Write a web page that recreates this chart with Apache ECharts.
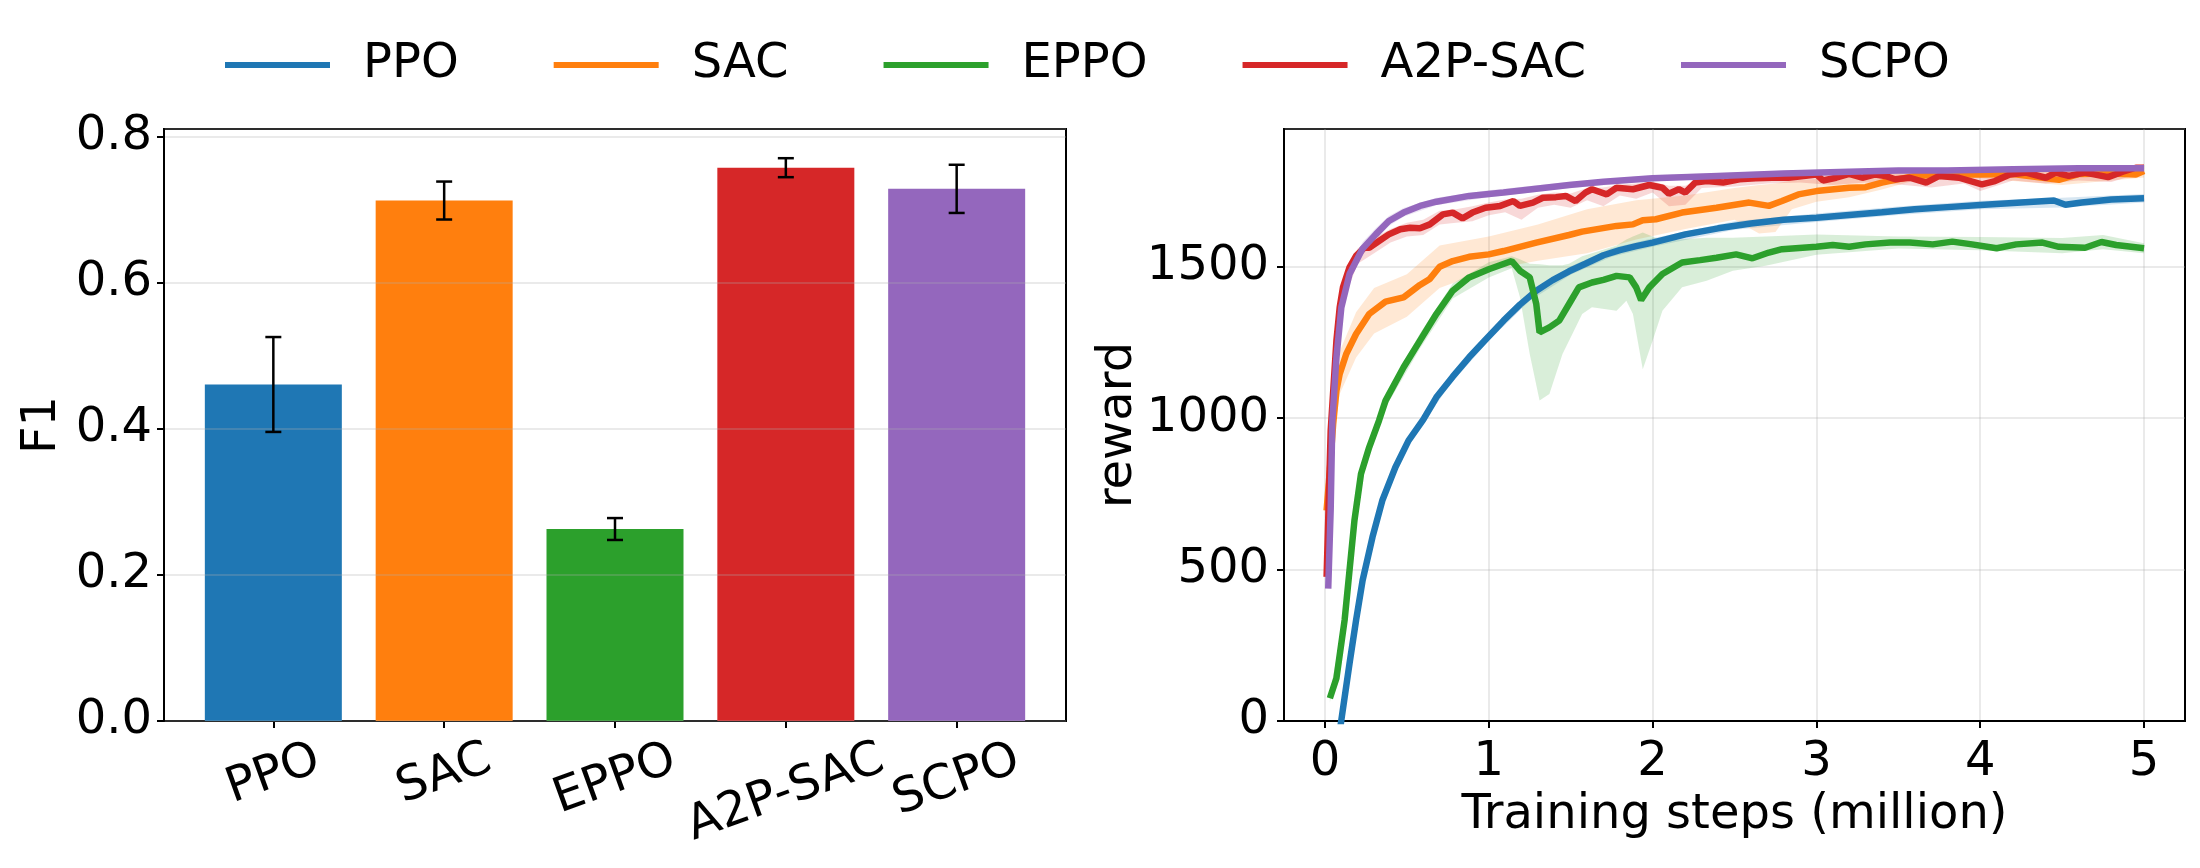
<!DOCTYPE html>
<html>
<head>
<meta charset="utf-8">
<script src="https://cdn.jsdelivr.net/npm/echarts@6/dist/echarts.min.js"></script>
<style>
  html, body { margin: 0; padding: 0; background: #fff; }
  #chart-main { width: 2200px; height: 868px; }
</style>
</head>
<body>
<div id="chart-main"></div>
<script type="text/javascript">
// methods (same order in both panels)
var methods = ['PPO', 'SAC', 'EPPO', 'A2P-SAC', 'SCPO'];
var colors = ['#1f77b4', '#ff7f0e', '#2ca02c', '#d62728', '#9467bd'];

// left panel: F1 score, mean and std
var f1Mean = [0.461, 0.713, 0.263, 0.758, 0.729];
var f1Err = [0.065, 0.026, 0.015, 0.013, 0.033];

// right panel: reward curves (x in million steps)
var ppoSteps = [0.02, 0.10, 0.15, 0.19, 0.23, 0.29, 0.35, 0.43, 0.51, 0.60, 0.68, 0.78, 0.88, 0.98, 1.09, 1.19, 1.29, 1.39, 1.49, 1.59, 1.70, 1.80, 1.90, 2.0, 2.2, 2.4, 2.6, 2.8, 3.0, 3.2, 3.4, 3.6, 3.8, 4.0, 4.2, 4.45, 4.52, 4.62, 4.8, 5.0];
var ppoReward = [-300, 3, 190, 333, 465, 607, 728, 838, 926, 995, 1069, 1137, 1201, 1259, 1322, 1375, 1421, 1456, 1485, 1510, 1538, 1555, 1568, 1580, 1607, 1627, 1643, 1655, 1662, 1671, 1680, 1690, 1697, 1704, 1711, 1719, 1705, 1712, 1722, 1726];
var ppoBandSteps = [0.5, 0.75, 1.0, 1.25, 1.5, 1.75, 2.0, 2.5, 3.0, 3.5, 4.0, 4.5, 5.0];
var ppoBandLow = [900, 1102, 1256, 1388, 1474, 1533, 1566, 1622, 1648, 1671, 1690, 1696, 1712];
var ppoBandHigh = [932, 1132, 1284, 1416, 1502, 1561, 1594, 1650, 1676, 1699, 1718, 1728, 1740];

var sacSteps = [0.01, 0.03, 0.05, 0.07, 0.09, 0.13, 0.19, 0.27, 0.37, 0.48, 0.58, 0.64, 0.70, 0.78, 0.88, 1.00, 1.09, 1.29, 1.49, 1.57, 1.78, 1.88, 1.94, 2.02, 2.18, 2.39, 2.59, 2.71, 2.79, 2.89, 3.0, 3.2, 3.3, 3.4, 3.6, 3.8, 4.0, 4.2, 4.48, 4.6, 4.8, 4.95, 5.0];
var sacReward = [695, 830, 980, 1091, 1146, 1212, 1278, 1344, 1385, 1399, 1440, 1460, 1500, 1519, 1533, 1541, 1552, 1580, 1605, 1616, 1635, 1640, 1654, 1657, 1679, 1695, 1712, 1701, 1717, 1739, 1750, 1761, 1763, 1778, 1800, 1805, 1805, 1806, 1787, 1806, 1808, 1805, 1816];
var sacBandSteps = [0.01, 0.05, 0.09, 0.19, 0.3, 0.5, 0.7, 1.0, 1.3, 1.6, 1.9, 2.2, 2.5, 2.65, 2.75, 2.85, 3.0, 3.2, 3.4, 3.6, 4.0, 4.5, 5.0];
var sacBandLow = [670, 930, 1080, 1200, 1280, 1335, 1430, 1490, 1520, 1545, 1590, 1625, 1655, 1610, 1615, 1690, 1715, 1730, 1755, 1785, 1792, 1770, 1795];
var sacBandHigh = [720, 1030, 1220, 1350, 1430, 1475, 1570, 1600, 1640, 1690, 1720, 1735, 1760, 1770, 1775, 1785, 1790, 1800, 1805, 1815, 1820, 1815, 1835];

var eppoSteps = [0.03, 0.07, 0.12, 0.15, 0.18, 0.22, 0.27, 0.33, 0.37, 0.48, 0.58, 0.68, 0.78, 0.88, 1.00, 1.14, 1.19, 1.25, 1.29, 1.31, 1.37, 1.43, 1.49, 1.55, 1.63, 1.70, 1.78, 1.86, 1.90, 1.93, 1.98, 2.06, 2.18, 2.29, 2.39, 2.51, 2.61, 2.71, 2.79, 3.0, 3.1, 3.2, 3.3, 3.45, 3.57, 3.71, 3.83, 3.95, 4.10, 4.22, 4.38, 4.48, 4.64, 4.74, 4.83, 5.0];
var eppoReward = [75, 141, 333, 498, 662, 816, 904, 992, 1058, 1168, 1256, 1344, 1421, 1465, 1492, 1519, 1487, 1465, 1377, 1283, 1300, 1322, 1377, 1432, 1448, 1457, 1470, 1465, 1432, 1390, 1432, 1476, 1514, 1522, 1530, 1541, 1528, 1547, 1558, 1566, 1572, 1566, 1574, 1580, 1580, 1574, 1583, 1574, 1561, 1574, 1580, 1566, 1563, 1582, 1572, 1561];
var eppoBandSteps = [0.03, 0.12, 0.22, 0.37, 0.58, 0.78, 1.00, 1.14, 1.19, 1.25, 1.31, 1.37, 1.45, 1.49, 1.57, 1.63, 1.78, 1.84, 1.88, 1.94, 2.00, 2.06, 2.18, 2.33, 2.49, 2.69, 3.0, 3.5, 4.0, 4.5, 4.75, 5.0];
var eppoBandLow = [60, 315, 795, 1035, 1230, 1395, 1465, 1495, 1400, 1212, 1058, 1080, 1212, 1256, 1344, 1366, 1355, 1388, 1344, 1162, 1256, 1355, 1432, 1454, 1487, 1503, 1540, 1560, 1555, 1545, 1558, 1545];
var eppoBandHigh = [90, 350, 835, 1080, 1280, 1445, 1515, 1535, 1525, 1510, 1508, 1505, 1505, 1510, 1535, 1545, 1570, 1590, 1600, 1613, 1600, 1585, 1591, 1596, 1596, 1600, 1607, 1600, 1598, 1595, 1605, 1578];

var a2pSteps = [0.01, 0.035, 0.07, 0.09, 0.11, 0.15, 0.19, 0.24, 0.27, 0.33, 0.39, 0.46, 0.52, 0.58, 0.64, 0.72, 0.78, 0.84, 0.90, 0.98, 1.07, 1.15, 1.19, 1.27, 1.33, 1.41, 1.47, 1.53, 1.59, 1.63, 1.72, 1.78, 1.88, 1.98, 2.06, 2.10, 2.16, 2.20, 2.26, 2.33, 2.43, 2.53, 2.63, 2.73, 2.83, 3.0, 3.04, 3.12, 3.2, 3.28, 3.36, 3.42, 3.48, 3.57, 3.67, 3.75, 3.87, 4.01, 4.09, 4.18, 4.28, 4.40, 4.46, 4.54, 4.64, 4.78, 4.87, 4.95, 5.0];
var a2pReward = [476, 959, 1256, 1366, 1432, 1498, 1536, 1563, 1563, 1585, 1607, 1624, 1629, 1627, 1640, 1673, 1679, 1660, 1679, 1695, 1701, 1717, 1701, 1712, 1728, 1730, 1734, 1717, 1745, 1756, 1739, 1761, 1756, 1770, 1761, 1741, 1756, 1745, 1778, 1783, 1778, 1789, 1792, 1794, 1794, 1805, 1785, 1794, 1807, 1794, 1805, 1800, 1789, 1794, 1778, 1800, 1794, 1772, 1783, 1805, 1811, 1794, 1811, 1800, 1811, 1796, 1814, 1827, 1827];
var a2pBandSteps = [0.01, 0.05, 0.1, 0.2, 0.3, 0.4, 0.5, 0.6, 0.7, 0.8, 0.9, 1.0, 1.1, 1.2, 1.3, 1.4, 1.5, 1.6, 1.7, 1.8, 1.9, 2.0, 2.1, 2.2, 2.3, 2.5, 2.7, 2.9, 3.1, 3.3, 3.5, 3.7, 3.9, 4.0, 4.2, 4.4, 4.6, 4.8, 5.0];
var a2pBandLow = [470, 1060, 1370, 1510, 1545, 1580, 1600, 1605, 1640, 1645, 1650, 1670, 1680, 1655, 1695, 1705, 1695, 1720, 1700, 1735, 1725, 1745, 1700, 1705, 1760, 1765, 1775, 1778, 1770, 1778, 1772, 1762, 1775, 1750, 1785, 1775, 1785, 1780, 1812];
var a2pBandHigh = [490, 1140, 1430, 1560, 1595, 1625, 1645, 1655, 1685, 1690, 1700, 1712, 1722, 1725, 1738, 1745, 1742, 1760, 1762, 1772, 1775, 1782, 1768, 1768, 1795, 1798, 1808, 1812, 1810, 1814, 1812, 1808, 1815, 1800, 1820, 1818, 1822, 1820, 1838];

var scpoSteps = [0.02, 0.035, 0.045, 0.07, 0.10, 0.15, 0.23, 0.31, 0.39, 0.48, 0.58, 0.68, 0.88, 1.09, 1.29, 1.49, 1.70, 2.0, 2.4, 2.8, 3.2, 3.5, 3.8, 4.2, 4.6, 5.0];
var scpoReward = [437, 700, 990, 1200, 1366, 1476, 1560, 1607, 1651, 1679, 1701, 1715, 1734, 1745, 1758, 1770, 1781, 1792, 1800, 1808, 1814, 1818, 1818, 1822, 1825, 1825];
var scpoBandSteps = [0.1, 0.15, 0.23, 0.31, 0.39, 0.48, 0.68, 1.0, 1.5, 2.0, 3.0, 4.0, 5.0];
var scpoBandLow = [1340, 1455, 1540, 1590, 1635, 1665, 1703, 1730, 1760, 1783, 1804, 1812, 1817];
var scpoBandHigh = [1395, 1500, 1582, 1627, 1668, 1694, 1728, 1753, 1781, 1802, 1821, 1829, 1834];

var curves = [
  [ppoSteps, ppoReward, ppoBandSteps, ppoBandLow, ppoBandHigh],
  [sacSteps, sacReward, sacBandSteps, sacBandLow, sacBandHigh],
  [eppoSteps, eppoReward, eppoBandSteps, eppoBandLow, eppoBandHigh],
  [a2pSteps, a2pReward, a2pBandSteps, a2pBandLow, a2pBandHigh],
  [scpoSteps, scpoReward, scpoBandSteps, scpoBandLow, scpoBandHigh]
];

var FONT = 'DejaVu Sans';
var FS = 48;

// rotated bar labels: matplotlib puts the top of the rotated box under the tick,
// so longer names sit lower. shift each label via rich padding.
var ctx = document.createElement('canvas').getContext('2d');
ctx.font = FS + 'px "' + FONT + '"';
var rich = {};
methods.forEach(function (m, i) {
  var d = ctx.measureText(m).width * 0.171;
  rich['c' + i] = { padding: [2 * d * 0.94, 2 * d * 0.342, 0, 0] };
});

function zip(a, b) {
  return a.map(function (v, i) { return [v, b[i]]; });
}

var series = [];

// bars
series.push({
  type: 'bar',
  name: 'F1',
  xAxisIndex: 0,
  yAxisIndex: 0,
  barWidth: 137,
  z: 2,
  data: methods.map(function (m, i) {
    return { value: [i, f1Mean[i]], itemStyle: { color: colors[i] } };
  })
});

// error bars
series.push({
  type: 'custom',
  name: 'err',
  xAxisIndex: 0,
  yAxisIndex: 0,
  z: 6,
  silent: true,
  data: methods.map(function (m, i) { return [i, f1Mean[i], f1Err[i]]; }),
  renderItem: function (params, api) {
    var x = api.value(0), v = api.value(1), e = api.value(2);
    var lo = api.coord([x, v - e]);
    var hi = api.coord([x, v + e]);
    var cap = 8;
    var st = { stroke: '#000', lineWidth: 2.5 };
    return {
      type: 'group',
      children: [
        { type: 'line', shape: { x1: lo[0], y1: lo[1], x2: hi[0], y2: hi[1] }, style: st },
        { type: 'line', shape: { x1: lo[0] - cap, y1: lo[1], x2: lo[0] + cap, y2: lo[1] }, style: st },
        { type: 'line', shape: { x1: hi[0] - cap, y1: hi[1], x2: hi[0] + cap, y2: hi[1] }, style: st }
      ]
    };
  }
});

// std bands
curves.forEach(function (c, k) {
  var bs = c[2], lo = c[3], hi = c[4];
  series.push({
    type: 'custom',
    name: methods[k] + ' band',
    xAxisIndex: 1,
    yAxisIndex: 1,
    clip: true,
    silent: true,
    z: 1,
    data: [[bs[0], lo[0]]],
    renderItem: function (params, api) {
      var pts = [];
      for (var i = 0; i < bs.length; i++) pts.push(api.coord([bs[i], hi[i]]));
      for (var j = bs.length - 1; j >= 0; j--) pts.push(api.coord([bs[j], lo[j]]));
      return { type: 'polygon', shape: { points: pts }, style: { fill: colors[k], opacity: 0.18 } };
    }
  });
});

// mean curves
curves.forEach(function (c, k) {
  series.push({
    type: 'line',
    name: methods[k],
    xAxisIndex: 1,
    yAxisIndex: 1,
    showSymbol: false,
    symbol: 'none',
    clip: true,
    z: 3 + k * 0.1,
    lineStyle: { width: 6.5, color: colors[k] },
    itemStyle: { color: colors[k] },
    data: zip(c[0], c[1])
  });
});

var myChart = echarts.init(document.getElementById('chart-main'));
var tick = { show: true, length: 7, lineStyle: { color: '#000', width: 2 } };
var gridLine = { show: true, lineStyle: { color: 'rgba(176,176,176,0.35)', width: 1.5 } };

// bar-name labels; neighbours go on two overlaid axes so none gets hidden
function barLabels(values) {
  return {
    customValues: values,
    showMinLabel: true, showMaxLabel: true, hideOverlap: false,
    rotate: 20, align: 'center', verticalAlign: 'middle', margin: 37,
    fontSize: FS, color: '#000', fontFamily: FONT,
    formatter: function (v) { var i = Math.round(v); return '{c' + i + '|' + methods[i] + '}'; },
    rich: rich
  };
}

var option = {
  animation: false,
  backgroundColor: '#fff',
  textStyle: { fontFamily: FONT, color: '#000' },
  legend: {
    data: methods,
    icon: 'rect',
    left: 220,
    top: 36,
    itemWidth: 105,
    itemHeight: 6,
    itemGap: 95,
    textStyle: { fontSize: FS, color: '#000', fontFamily: FONT, padding: [0, 0, 0, 28] }
  },
  grid: [
    { left: 164, top: 129, width: 902, height: 592, show: true, borderColor: '#000', borderWidth: 2, backgroundColor: 'transparent' },
    { left: 1284, top: 129, width: 901, height: 592, show: true, borderColor: '#000', borderWidth: 2, backgroundColor: 'transparent' }
  ],
  xAxis: [
    {
      type: 'value', gridIndex: 0, position: 'bottom', min: -0.64, max: 4.64,
      axisLine: { show: true, onZero: false, lineStyle: { color: '#000', width: 2 } },
      axisTick: { show: true, length: 7, lineStyle: { color: '#000', width: 2 }, customValues: [0, 1, 2, 3, 4] },
      axisLabel: barLabels([0, 2, 4]),
      splitLine: { show: false }
    },
    {
      type: 'value', gridIndex: 1, min: -0.25, max: 5.25,
      name: 'Training steps (million)', nameLocation: 'middle', nameGap: 70,
      nameTextStyle: { fontSize: FS, color: '#000', fontFamily: FONT },
      axisLine: { show: true, onZero: false, lineStyle: { color: '#000', width: 2 } },
      axisTick: { show: true, length: 7, lineStyle: { color: '#000', width: 2 }, customValues: [0, 1, 2, 3, 4, 5] },
      axisLabel: { customValues: [0, 1, 2, 3, 4, 5], showMinLabel: true, showMaxLabel: true,
        margin: 18, fontSize: FS, color: '#000', fontFamily: FONT,
        formatter: function (v) { return String(v); } },
      splitLine: gridLine
    },
    {
      type: 'value', gridIndex: 0, position: 'bottom', min: -0.64, max: 4.64,
      axisLine: { show: false, onZero: false },
      axisTick: { show: false },
      axisLabel: barLabels([1, 3]),
      splitLine: { show: false }
    }
  ],
  yAxis: [
    {
      type: 'value', gridIndex: 0, min: 0, max: 0.811, interval: 0.2, z: 3,
      name: 'F1', nameLocation: 'middle', nameGap: 97,
      nameTextStyle: { fontSize: FS, color: '#000', fontFamily: FONT },
      axisLine: { show: true, onZero: false, lineStyle: { color: '#000', width: 2 } },
      axisTick: tick,
      axisLabel: { margin: 12, fontSize: FS, color: '#000', fontFamily: FONT, showMaxLabel: false,
        formatter: function (v) { return v.toFixed(1); } },
      splitLine: gridLine
    },
    {
      type: 'value', gridIndex: 1, min: 0, max: 1955, interval: 500,
      name: 'reward', nameLocation: 'middle', nameGap: 128,
      nameTextStyle: { fontSize: FS, color: '#000', fontFamily: FONT },
      axisLine: { show: true, onZero: false, lineStyle: { color: '#000', width: 2 } },
      axisTick: tick,
      axisLabel: { margin: 15, fontSize: FS, color: '#000', fontFamily: FONT, showMaxLabel: false,
        formatter: function (v) { return String(v); } },
      splitLine: gridLine
    }
  ],
  series: series
};

myChart.setOption(option);
</script>
</body>
</html>
